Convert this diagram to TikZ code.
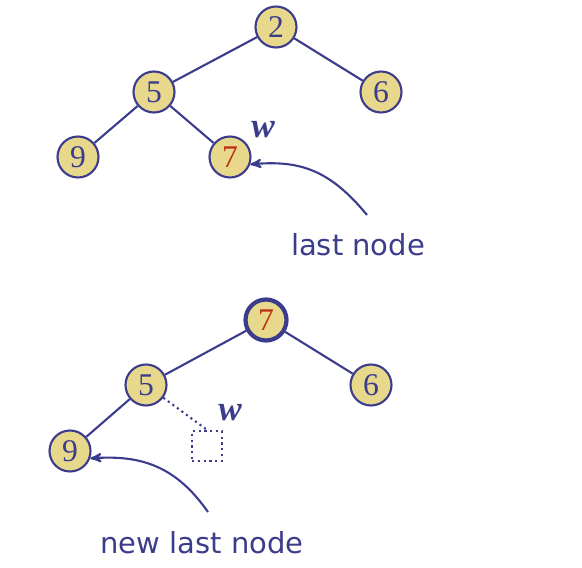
\documentclass[tikz,border=0pt]{standalone}
\usepackage{fontspec}
\setmainfont{Liberation Serif}
\newfontfamily\labelfont{DejaVu Sans}
\usetikzlibrary{arrows, positioning}
\definecolor{heapblue}{RGB}{60,60,140}
\definecolor{heapfill}{RGB}{232,216,140}
\definecolor{heapred}{RGB}{190,50,20}
\tikzstyle{key}=[circle, draw=heapblue, fill=heapfill, line width=1.2pt, minimum size=0.82cm, inner sep=0pt, text=heapblue, font=\fontsize{18}{18}\selectfont]
\tikzstyle{empty}=[rectangle, draw=heapblue, dotted, line width=1.3pt, minimum size=0.6cm]
\tikzstyle{caption}=[text=heapblue, font=\labelfont\fontsize{16.5}{16.5}\selectfont]
\tikzstyle{wlabel}=[text=heapblue, font=\bfseries\itshape\fontsize{20}{20}\selectfont]

\begin{document}
\begin{tikzpicture}[x=0.02cm, y=-0.02cm, >=stealth', heapedge/.style={draw=heapblue, line width=1.2pt}]
    \useasboundingbox (0,0) rectangle (582,568);

    % Before: 7 is the last node.
    \node[key] (a2) at (276,27) {2};
    \node[key] (a5) at (154,92) {5};
    \node[key] (a6) at (381,92) {6};
    \node[key] (a9) at (78,157) {9};
    \node[key, text=heapred] (a7) at (230,157) {7};
    \node[wlabel] (aw) at (263,130) {w};
    \node[caption] (alast) at (358,245) {last node};
    \coordinate (astart) at (367,215);
    \draw[heapedge] (a2) -- (a5);
    \draw[heapedge] (a2) -- (a6);
    \draw[heapedge] (a5) -- (a9);
    \draw[heapedge] (a5) -- (a7);
    \draw[heapedge, ->] (astart) .. controls (330,170) and (300,160) .. (a7.-20);

    % After: 7 moved to the root.
    \node[key, line width=2.4pt, text=heapred] (b7) at (266,320) {7};
    \node[key] (b5) at (146,385) {5};
    \node[key] (b6) at (371,385) {6};
    \node[key] (b9) at (70,451) {9};
    \node[empty] (bw) at (207,446) {};
    \node[wlabel] (bwl) at (230,413) {w};
    \node[caption] (blast) at (202,543) {new last node};
    \coordinate (bstart) at (208,512);
    \draw[heapedge] (b7) -- (b5);
    \draw[heapedge] (b7) -- (b6);
    \draw[heapedge] (b5) -- (b9);
    \draw[heapedge, dotted] (b5) -- (bw.north);
    \draw[heapedge, ->] (bstart) .. controls (175,465) and (140,455) .. (b9.-20);
  \end{tikzpicture}
\end{document}
